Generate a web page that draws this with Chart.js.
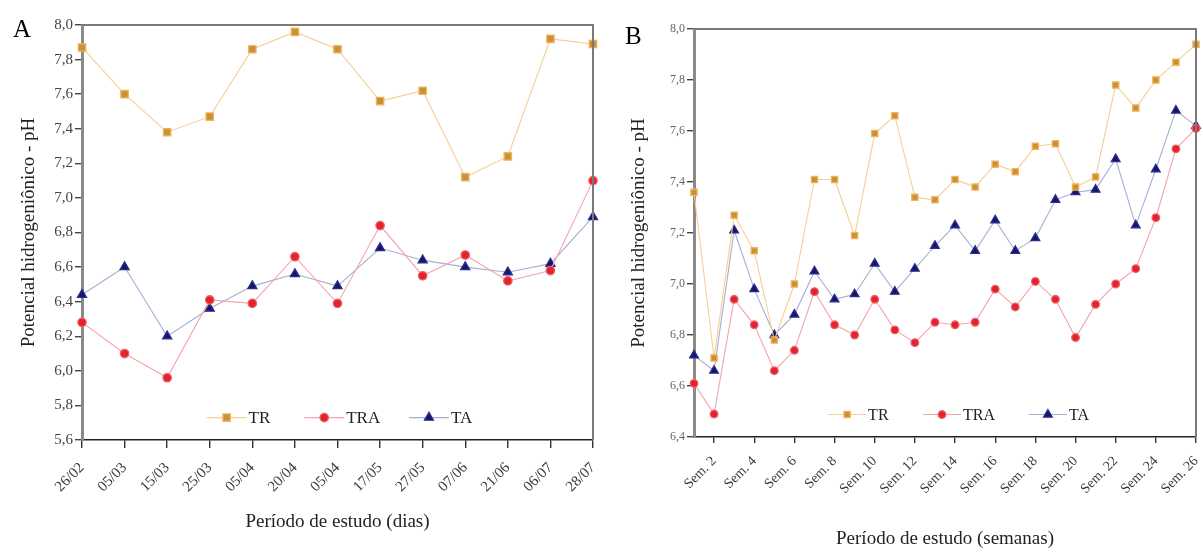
<!DOCTYPE html>
<html>
<head>
<meta charset="utf-8">
<script src="https://cdn.jsdelivr.net/npm/chart.js@4.4.1/dist/chart.umd.min.js"></script>
<style>
  html, body { margin:0; padding:0; background:#fff; }
  body { width:1203px; height:552px; position:relative; overflow:hidden; font-family:"Liberation Serif", "DejaVu Serif", serif; }
  .wrap { position:absolute; top:0; height:552px; }
  .panel-label { position:absolute; font-family:"Liberation Serif", serif; font-size:25px; color:#000; }
</style>
</head>
<body>
<div class="wrap" style="left:0;width:600px;"><canvas id="cA" width="600" height="552"></canvas></div>
<div class="wrap" style="left:600px;width:603px;"><canvas id="cB" width="603" height="552"></canvas></div>
<div class="panel-label" style="left:13px;top:15px;">A</div>
<div class="panel-label" style="left:625px;top:22px;">B</div>
<script>
// ---------- DATA ----------
const seriesNames = ['TR', 'TRA', 'TA'];

const daysA = ['26/02','05/03','15/03','25/03','05/04','20/04','05/04','17/05','27/05','07/06','21/06','06/07','28/07'];
const trA  = [7.87, 7.60, 7.38, 7.47, 7.86, 7.96, 7.86, 7.56, 7.62, 7.12, 7.24, 7.92, 7.89];
const traA = [6.28, 6.10, 5.96, 6.41, 6.39, 6.66, 6.39, 6.84, 6.55, 6.67, 6.52, 6.58, 7.10];
const taA  = [6.44, 6.60, 6.20, 6.36, 6.49, 6.56, 6.49, 6.71, 6.64, 6.60, 6.57, 6.62, 6.89];

const weeksB = ['Sem. 1','Sem. 2','Sem. 3','Sem. 4','Sem. 5','Sem. 6','Sem. 7','Sem. 8','Sem. 9','Sem. 10',
                'Sem. 11','Sem. 12','Sem. 13','Sem. 14','Sem. 15','Sem. 16','Sem. 17','Sem. 18','Sem. 19','Sem. 20',
                'Sem. 21','Sem. 22','Sem. 23','Sem. 24','Sem. 25','Sem. 26'];
const trB  = [7.36, 6.71, 7.27, 7.13, 6.78, 7.00, 7.41, 7.41, 7.19, 7.59, 7.66, 7.34, 7.33, 7.41, 7.38, 7.47, 7.44, 7.54, 7.55, 7.38, 7.42, 7.78, 7.69, 7.80, 7.87, 7.94];
const traB = [6.61, 6.49, 6.94, 6.84, 6.66, 6.74, 6.97, 6.84, 6.80, 6.94, 6.82, 6.77, 6.85, 6.84, 6.85, 6.98, 6.91, 7.01, 6.94, 6.79, 6.92, 7.00, 7.06, 7.26, 7.53, 7.61];
const taB  = [6.72, 6.66, 7.21, 6.98, 6.80, 6.88, 7.05, 6.94, 6.96, 7.08, 6.97, 7.06, 7.15, 7.23, 7.13, 7.25, 7.13, 7.18, 7.33, 7.36, 7.37, 7.49, 7.23, 7.45, 7.68, 7.62];

const yTitle = 'Potencial hidrogeniônico - pH';
const xTitleA = 'Período de estudo (dias)';
const xTitleB = 'Período de estudo (semanas)';

// ---------- STYLE ----------
const SERIF = '"Liberation Serif", "DejaVu Serif", serif';
const styles = {
  TR:  { line:'#F7CE94', fill:'#C99039', border:'#F2B458', pointStyle:'rect' },
  TRA: { line:'#F5A3AC', fill:'#E0232D', border:'#F0606A', pointStyle:'circle' },
  TA:  { line:'#A7AED4', fill:'#15156A', border:'#2B2B8C', pointStyle:'triangle' }
};
const sizes = {
  A: { TR:5.2, TRA:4.2, TA:5.2 },
  B: { TR:4.4, TRA:3.8, TA:5.0 }
};

function makeDatasets(values, panel) {
  return seriesNames.map((name, i) => {
    const s = styles[name];
    return {
      label: name,
      data: values[i],
      borderColor: s.line,
      borderWidth: 1.1,
      backgroundColor: s.fill,
      pointBackgroundColor: s.fill,
      pointBorderColor: s.border,
      pointBorderWidth: 1.3,
      pointStyle: s.pointStyle,
      pointRadius: sizes[panel][name],
      pointHoverRadius: sizes[panel][name],
      tension: 0,
      clip: false
    };
  });
}

// frame + legend plugin
const framePlugin = {
  id: 'frame',
  afterDraw(chart, args, opts) {
    const ctx = chart.ctx, a = chart.chartArea;
    ctx.save();
    ctx.strokeStyle = '#7a7a7a';
    ctx.lineWidth = 2;
    ctx.beginPath();
    ctx.moveTo(a.left, a.top);
    ctx.lineTo(a.right, a.top);
    ctx.lineTo(a.right, a.bottom);
    ctx.stroke();
    ctx.restore();
  },
  afterDatasetsDraw(chart, args, opts) {
    const ctx = chart.ctx, a = chart.chartArea;
    const y = a.top + opts.legendY * (a.bottom - a.top);
    ctx.save();
    ctx.font = opts.legendFont + 'px ' + SERIF;
    ctx.textBaseline = 'middle';
    chart.data.datasets.forEach((ds, i) => {
      const cx = a.left + opts.legendX[i] * (a.right - a.left);
      ctx.strokeStyle = ds.borderColor;
      ctx.lineWidth = 1.1;
      ctx.beginPath();
      ctx.moveTo(cx - opts.half, y);
      ctx.lineTo(cx + opts.half, y);
      ctx.stroke();
      ctx.fillStyle = ds.pointBackgroundColor;
      ctx.strokeStyle = ds.pointBorderColor;
      ctx.lineWidth = ds.pointBorderWidth;
      Chart.helpers.drawPoint(ctx, { pointStyle: ds.pointStyle, radius: ds.pointRadius, rotation: 0, borderWidth: ds.pointBorderWidth }, cx, y);
      ctx.fillStyle = '#222';
      ctx.fillText(ds.label, cx + opts.half + 2, y + 1);
    });
    ctx.restore();
  }
};

function fmt(v) { return (Math.round(v * 10) / 10).toFixed(1).replace('.', ','); }

function buildChart(id, labels, values, panel, cfg) {
  return new Chart(document.getElementById(id), {
    type: 'line',
    data: { labels: labels, datasets: makeDatasets(values, panel) },
    plugins: [framePlugin],
    options: {
      responsive: false,
      animation: false,
      events: [],
      layout: { padding: cfg.padding },
      plugins: {
        legend: { display: false },
        tooltip: { enabled: false },
        frame: cfg.frame
      },
      scales: {
        x: {
          type: 'category',
          offset: false,
          afterFit: s => { s.height = cfg.xHeight; s.paddingLeft = 0; s.paddingRight = 0; },
          border: { display: true, color: '#222', width: 1.6 },
          grid: { display: true, drawOnChartArea: false, drawTicks: true, tickLength: cfg.xTickLen, color: '#333', lineWidth: 1.4 },
          ticks: {
            autoSkip: false,
            minRotation: 45, maxRotation: 45,
            padding: cfg.xTickPad,
            color: '#3a3a3a',
            font: { family: SERIF, size: cfg.xTickFont },
            callback: cfg.xCallback
          },
          title: { display: true, text: cfg.xTitle, color: '#222', font: { family: SERIF, size: 19 }, padding: { top: 4, bottom: 0 } }
        },
        y: {
          min: cfg.yMin, max: 8.0,
          afterFit: s => { s.width = cfg.yWidth; s.paddingTop = 0; s.paddingBottom = 0; },
          border: { display: true, color: '#8a8a8a', width: 3 },
          grid: { display: true, drawOnChartArea: false, drawTicks: true, tickLength: 7, color: '#444', lineWidth: 1.4 },
          ticks: {
            stepSize: 0.2,
            padding: 2,
            color: cfg.yTickColor,
            font: { family: SERIF, size: cfg.yTickFont },
            callback: v => fmt(v)
          },
          title: { display: true, text: yTitle, color: '#222', font: { family: SERIF, size: 19 }, padding: { top: 0, bottom: 0 } }
        }
      }
    }
  });
}

buildChart('cA', daysA, [trA, traA, taA], 'A', {
  padding: { left: 18, top: 25, right: 7, bottom: 19 },
  yWidth: 64,
  xHeight: 93,
  xTickLen: 8,
  xTickPad: 11,
  xTickFont: 15,
  yTickFont: 15,
  yTickColor: '#444',
  yMin: 5.6,
  xTitle: xTitleA,
  xCallback: function(v, i) { return this.getLabelForValue(v); },
  frame: { legendY: 0.946, legendX: [0.283, 0.474, 0.679], half: 20, legendFont: 17 }
});

buildChart('cB', weeksB, [trB, traB, taB], 'B', {
  padding: { left: 28, top: 29, right: 7, bottom: 2 },
  yWidth: 66,
  xHeight: 113,
  xTickLen: 6,
  xTickPad: 10,
  xTickFont: 14,
  yTickFont: 12,
  yTickColor: '#666',
  yMin: 6.4,
  xTitle: xTitleB,
  xCallback: function(v, i) { return (i % 2 === 1) ? this.getLabelForValue(v) : null; },
  frame: { legendY: 0.945, legendX: [0.305, 0.494, 0.705], half: 19, legendFont: 16 }
});
</script>
</body>
</html>
